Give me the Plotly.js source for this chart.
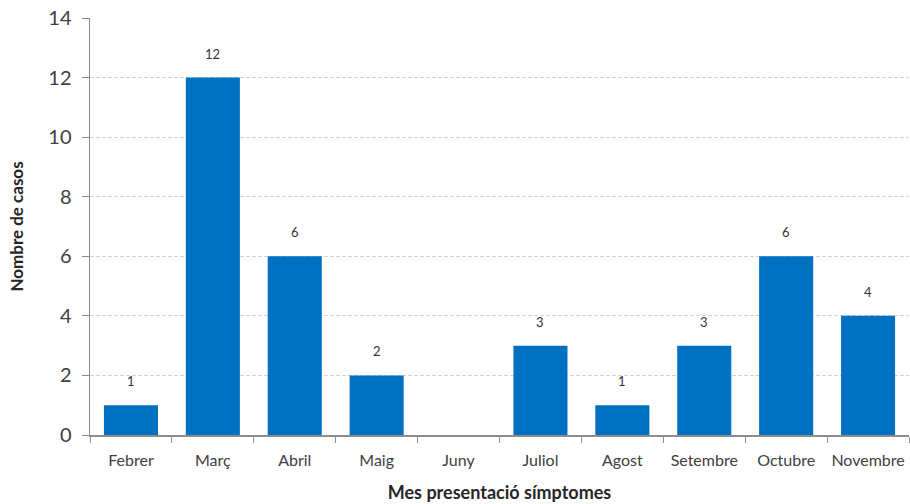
<!DOCTYPE html>
<html>
<head>
<meta charset="utf-8">
<script src="https://cdn.plot.ly/plotly-3.0.1.min.js"></script>
<style>
  html, body { margin: 0; padding: 0; background: #fff; }
  #chart { width: 910px; height: 504px; }
</style>
</head>
<body>
<div id="chart"></div>
<script>
// Cases by month of symptom onset
const months = ['Febrer', 'Març', 'Abril', 'Maig', 'Juny', 'Juliol', 'Agost', 'Setembre', 'Octubre', 'Novembre'];
const cases = [1, 12, 6, 2, 0, 3, 1, 3, 6, 4];
const yTicks = [0, 2, 4, 6, 8, 10, 12, 14];

const FONT = 'Lato, "Open Sans", "Liberation Sans", sans-serif';
const BLUE = '#0070C0';

const trace = {
  type: 'bar',
  x: months,
  y: cases,
  width: 0.66,
  marker: { color: BLUE, line: { width: 0 } },
  hoverinfo: 'x+y'
};

// value labels above each non-empty bar
const labels = months
  .map((m, i) => ({ m, v: cases[i] }))
  .filter(d => d.v > 0)
  .map(d => ({
    x: d.m, y: d.v, text: String(d.v),
    showarrow: false, yanchor: 'bottom', yshift: 14,
    font: { family: FONT, size: 13, color: '#333333' }
  }));

const layout = {
  width: 910,
  height: 504,
  margin: { l: 90, r: 1, t: 18, b: 69 },
  paper_bgcolor: '#ffffff',
  plot_bgcolor: '#ffffff',
  showlegend: false,
  bargap: 0.34,
  xaxis: {
    type: 'category',
    showline: true,
    linecolor: '#8c8c8c',
    linewidth: 1.5,
    ticks: 'outside',
    tickson: 'boundaries',
    ticklen: 6,
    tickcolor: '#8c8c8c',
    showgrid: false,
    tickangle: 0,
    ticklabelstandoff: 10,
    tickfont: { family: FONT, size: 16, color: '#404040' },
    title: {
      text: 'Mes presentació símptomes',
      font: { family: FONT, size: 18, color: '#262626', weight: 'bold' },
      standoff: 18
    },
    automargin: false,
    fixedrange: true
  },
  yaxis: {
    range: [0, 14],
    tickvals: yTicks,
    showline: true,
    linecolor: '#8c8c8c',
    linewidth: 1.5,
    ticks: 'outside',
    ticklen: 7,
    tickcolor: '#8c8c8c',
    showgrid: true,
    gridcolor: '#d2d2d2',
    griddash: '4px,2px',
    gridwidth: 1,
    zeroline: false,
    ticklabelstandoff: 6,
    tickfont: { family: FONT, size: 20, color: '#404040' },
    title: {
      text: 'Nombre de casos',
      font: { family: FONT, size: 17, color: '#262626', weight: 'bold' },
      standoff: 20
    },
    automargin: false,
    fixedrange: true
  },
  annotations: labels
};

Plotly.newPlot('chart', [trace], layout, { displayModeBar: false, staticPlot: true });
</script>
</body>
</html>
